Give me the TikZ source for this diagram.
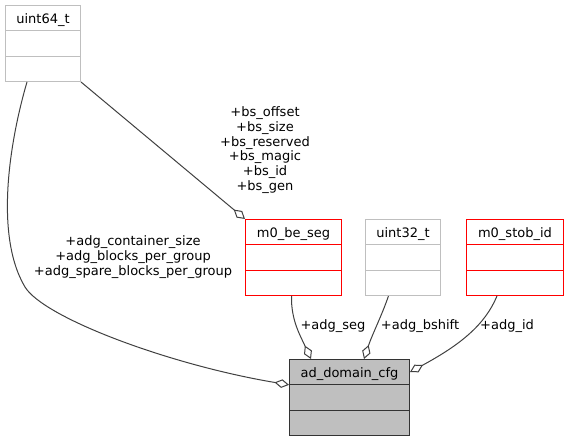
\documentclass[tikz,border=0pt]{standalone}
\usepackage{fontspec}
\setmainfont{DejaVu Sans}
\usetikzlibrary{shapes.multipart,arrows.meta}
\definecolor{edgegray}{HTML}{404040}
\definecolor{boxgray}{HTML}{BFBFBF}
\newcommand{\rowstrut}{\rule[-5.25pt]{0pt}{18.25pt}}
\begin{document}
\begin{tikzpicture}[x=0.75pt, y=-0.75pt,
    cls/.style={rectangle split, rectangle split parts=3, draw, line width=0.75pt,
                inner ysep=0pt, inner xsep=2pt, anchor=north west,
                font=\fontsize{9.75}{11}\selectfont},
    plainbox/.style={cls, draw=boxgray},
    linkbox/.style={cls, draw=red},
    mainbox/.style={cls, draw=black!80, fill=boxgray},
    lbl/.style={align=center, inner sep=1pt, font=\fontsize{9.75}{11}\selectfont},
    edge/.style={draw=edgegray, line width=0.75pt,
                 -{Diamond[fill=white, length=11pt, width=6.5pt]}}]
    \useasboundingbox (0,0) rectangle (569,441);
    \node[plainbox, minimum width=56.25pt] (u64)  at (5,5)     {\rowstrut uint64\_t\nodepart{two}\rowstrut\nodepart{three}\rowstrut};
    \node[linkbox,  minimum width=72pt]    (seg)  at (245,219) {\rowstrut m0\_be\_seg\nodepart{two}\rowstrut\nodepart{three}\rowstrut};
    \node[plainbox, minimum width=56.25pt] (u32)  at (365,219) {\rowstrut uint32\_t\nodepart{two}\rowstrut\nodepart{three}\rowstrut};
    \node[linkbox,  minimum width=72.75pt] (stob) at (466,219) {\rowstrut m0\_stob\_id\nodepart{two}\rowstrut\nodepart{three}\rowstrut};
    \node[mainbox,  minimum width=90pt]    (cfg)  at (289,359) {\rowstrut ad\_domain\_cfg\nodepart{two}\rowstrut\nodepart{three}\rowstrut};

    \node[lbl] (bslbl)  at (265,150) {+bs\_offset\\+bs\_size\\+bs\_reserved\\+bs\_magic\\+bs\_id\\+bs\_gen};
    \node[lbl] (cntlbl) at (133,257) {+adg\_container\_size\\+adg\_blocks\_per\_group\\+adg\_spare\_blocks\_per\_group};
    \node[lbl] (seglbl) at (333,326) {+adg\_seg};
    \node[lbl] (bshlbl) at (420,326) {+adg\_bshift};
    \node[lbl] (idlbl)  at (507,326) {+adg\_id};

    \draw[edge] ([xshift=16.5pt]u64.south west) .. controls (10,140) and (-6,235) .. (25,287)
                .. controls (44,318) and (170,365) .. (cfg.text split west);
    \draw[edge] (u64.south east) -- (seg.north west);
    \draw[edge] ([xshift=-1.5pt]seg.south) .. controls (291,320) and (300,335) .. ([xshift=16.5pt]cfg.north west);
    \draw[edge] ([xshift=-10.9pt]u32.south) .. controls (382,315) and (372,335) .. ([xshift=56.25pt]cfg.north west);
    \draw[edge] ([xshift=23.25pt]stob.south west) .. controls (485,325) and (460,345) .. ([yshift=-9.75pt]cfg.north east);
\end{tikzpicture}
\end{document}
